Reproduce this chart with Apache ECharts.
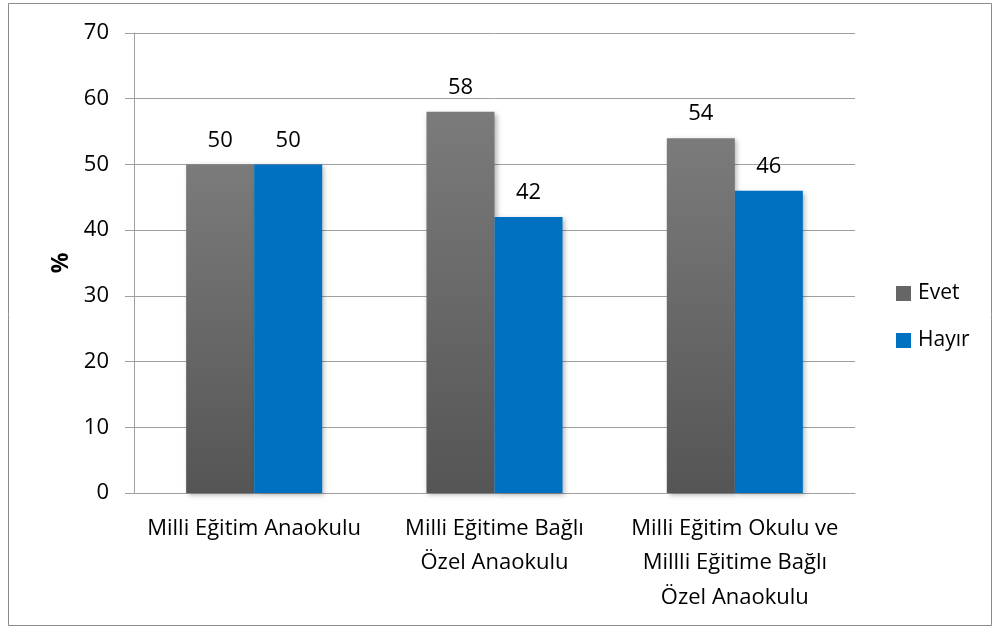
<!DOCTYPE html>
<html><head><meta charset="utf-8">
<script src="https://cdn.jsdelivr.net/npm/echarts@6/dist/echarts.min.js"></script>
<style>html,body{margin:0;padding:0;background:#fff}#c{width:993px;height:628px}</style>
</head><body><div id="c"></div>
<script>
var categories = ['Milli Eğitim Anaokulu', 'Milli Eğitime Bağlı\nÖzel Anaokulu', 'Milli Eğitim Okulu ve\nMillli Eğitime Bağlı\nÖzel Anaokulu'];
var evet = [50, 58, 54];
var hayir = [50, 42, 46];
var seriesNames = ['Evet', 'Hayır'];
var yTicks = {min: 0, max: 70, interval: 10};

var font = '"Open Sans", "Noto Sans", sans-serif';
var chart = echarts.init(document.getElementById('c'), null, {renderer: 'canvas'});
var shadow = {shadowBlur: 5, shadowOffsetX: 2, shadowOffsetY: 2, shadowColor: 'rgba(0,0,0,0.3)'};
chart.setOption({
  animation: false,
  graphic: [{type: 'rect', shape: {x: 8.5, y: 3.5, width: 983, height: 622}, style: {fill: 'none', stroke: '#8c8c8c', lineWidth: 1}, silent: true}],
  grid: {left: 134, right: 138, top: 33, bottom: 135},
  legend: {
    orient: 'vertical', left: 896, top: 283, padding: 0, itemWidth: 15, itemHeight: 15, itemGap: 26,
    icon: 'rect',
    textStyle: {fontFamily: font, fontSize: 21, color: '#000', padding: [0, 0, 0, 2]},
    data: [{name: seriesNames[0], itemStyle: {color: '#666666'}}, {name: seriesNames[1]}]
  },
  xAxis: {
    type: 'category', data: categories,
    axisLine: {lineStyle: {color: '#a0a0a0'}},
    axisTick: {show: false},
    axisLabel: {fontFamily: font, fontSize: 22, color: '#000', lineHeight: 34.5, margin: 18, interval: 0}
  },
  yAxis: {
    type: 'value', min: yTicks.min, max: yTicks.max, interval: yTicks.interval,
    name: '%', nameLocation: 'middle', nameGap: 60, nameRotate: 90,
    nameTextStyle: {fontFamily: font, fontSize: 23, fontWeight: 'bold', color: '#000'},
    axisLine: {show: true, lineStyle: {color: '#a0a0a0'}},
    axisTick: {show: true, length: 9, lineStyle: {color: '#a0a0a0'}},
    axisLabel: {fontFamily: font, fontSize: 22, color: '#000', margin: 25},
    splitLine: {lineStyle: {color: '#a0a0a0'}}
  },
  series: [
    {name: seriesNames[0], type: 'bar', data: evet, barGap: '0%', barCategoryGap: '43.4%',
      itemStyle: Object.assign({color: new echarts.graphic.LinearGradient(0, 0, 0, 1, [{offset: 0, color: '#7b7b7b'}, {offset: 1, color: '#555555'}])}, shadow),
      label: {show: true, position: 'top', distance: 13, fontFamily: font, fontSize: 22, color: '#000'}},
    {name: seriesNames[1], type: 'bar', data: hayir, barGap: '0%', barCategoryGap: '43.4%',
      itemStyle: Object.assign({color: '#0070c0'}, shadow),
      label: {show: true, position: 'top', distance: 13, fontFamily: font, fontSize: 22, color: '#000'}}
  ]
});
</script></body></html>
